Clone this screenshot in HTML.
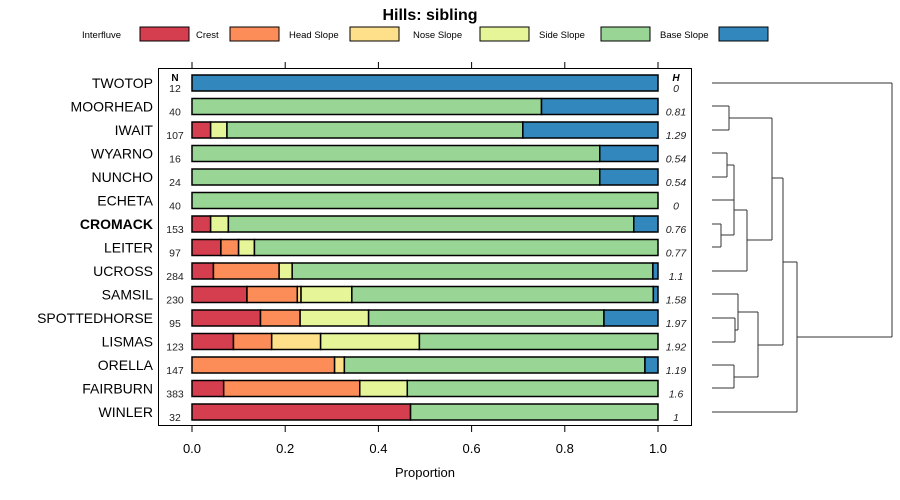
<!DOCTYPE html>
<html><head><meta charset="utf-8"><style>
body{margin:0;background:#fff}
svg{display:block;font-family:"Liberation Sans",sans-serif}
</style></head><body>
<svg id="c" width="900" height="500"></svg>
<script>
const categories=["TWOTOP","MOORHEAD","IWAIT","WYARNO","NUNCHO","ECHETA","CROMACK","LEITER","UCROSS","SAMSIL","SPOTTEDHORSE","LISMAS","ORELLA","FAIRBURN","WINLER"];
const seriesNames=["Interfluve","Crest","Head Slope","Nose Slope","Side Slope","Base Slope"];
const colors=["#D53E4F","#FC8D59","#FEE08B","#E6F598","#99D594","#3288BD"];
const interfluve=[0,0,0.04,0,0,0,0.04,0.062,0.046,0.118,0.147,0.089,0,0.068,0.469];
const crest=[0,0,0,0,0,0,0,0.038,0.141,0.108,0.085,0.082,0.306,0.292,0];
const headSlope=[0,0,0,0,0,0,0,0,0,0.008,0,0.105,0.021,0,0];
const noseSlope=[0,0,0.035,0,0,0,0.038,0.034,0.028,0.109,0.147,0.212,0,0.102,0];
const sideSlope=[0,0.75,0.635,0.875,0.875,1,0.87,0.866,0.774,0.647,0.505,0.512,0.645,0.538,0.531];
const baseSlope=[1,0.25,0.29,0.125,0.125,0,0.052,0,0.011,0.01,0.116,0,0.028,0,0];
const nValues=[12,40,107,16,24,40,153,97,284,230,95,123,147,383,32];
const hValues=["0","0.81","1.29","0.54","0.54","0","0.76","0.77","1.1","1.58","1.97","1.92","1.19","1.6","1"];
const xTicks=[0,0.2,0.4,0.6,0.8,1];
const xTickLabels=["0.0","0.2","0.4","0.6","0.8","1.0"];
const series=[interfluve,crest,headSlope,noseSlope,sideSlope,baseSlope];

const NS="http://www.w3.org/2000/svg";
const svg=document.getElementById('c');
function mk(t,a,p){const e=document.createElementNS(NS,t);for(const k in a)e.setAttribute(k,a[k]);(p||svg).appendChild(e);return e;}
const x=v=>192+v*466;
const y=i=>83+i*23.5;

let t=mk('text',{x:430,y:20,'text-anchor':'middle','font-size':16,'font-weight':'bold'});t.textContent="Hills: sibling";


const legX=[82,196,289,413,539,660],legBoxX=[140,230,350,480,601,719];
seriesNames.forEach((n,i)=>{
  const g=mk('g',{});
  
  
  const tt=mk('text',{x:legX[i],y:38,'font-size':9.5},g);tt.textContent=n;
  mk('rect',{x:legBoxX[i],y:27,width:49,height:14,fill:colors[i],stroke:'#000','stroke-width':1},g);
});

const panel=mk('rect',{x:158.5,y:68.5,width:533,height:357,fill:'none',stroke:'#000','stroke-width':1});


xTicks.forEach((v,i)=>{
  mk('line',{x1:x(v),x2:x(v),y1:62,y2:68,stroke:'#000'});
  mk('line',{x1:x(v),x2:x(v),y1:426,y2:432,stroke:'#000'});
  const l=mk('text',{x:x(v),y:453,'text-anchor':'middle','font-size':13});l.textContent=xTickLabels[i];
  
});
let xl=mk('text',{x:425,y:477,'text-anchor':'middle','font-size':13});xl.textContent="Proportion";


let hn=mk('text',{x:175,y:81,'text-anchor':'middle','font-size':10,'font-weight':'bold'});hn.textContent="N";
let hh=mk('text',{x:676,y:81,'text-anchor':'middle','font-size':10,'font-weight':'bold','font-style':'italic'});hh.textContent="H";

categories.forEach((c,i)=>{
  const cy=y(i);
  const lab=mk('text',{x:153,y:cy+5,'text-anchor':'end','font-size':14,'font-weight':c==='CROMACK'?'bold':'normal'});lab.textContent=c;
  
  const nt=mk('text',{x:175,y:cy+9,'text-anchor':'middle','font-size':10.5,fill:'#222'});nt.textContent=nValues[i];
  const ht=mk('text',{x:676,y:cy+9,'text-anchor':'middle','font-size':10.5,'font-style':'italic',fill:'#222'});ht.textContent=hValues[i];
  let cum=0;
  series.forEach((s,k)=>{
    const v=s[i];if(v<=0)return;
    const r=mk('rect',{x:x(cum),y:cy-8,width:x(cum+v)-x(cum),height:16,fill:colors[k],stroke:'#000','stroke-width':1.5});
    
    cum+=v;
  });
});

const den=[[712,83,892,83],[892,83,892,337],[892,337,797,337],
[712,106,729,106],[712,130,729,130],[729,106,729,130],[729,118,772,118],
[712,153,727,153],[712,177,727,177],[727,153,727,177],[727,165,734,165],
[712,200,734,200],[712,224,721,224],[712,247,721,247],[721,224,721,247],[721,235,734,235],
[734,165,734,235],[734,210,747,210],[712,271,747,271],[747,210,747,271],[747,240,772,240],
[772,118,772,240],[772,178,783,178],
[712,294,738,294],[712,318,735,318],[712,342,735,342],[735,318,735,342],[735,330,738,330],[738,294,738,330],[738,312,758,312],
[712,365,734,365],[712,388,734,388],[734,365,734,388],[734,377,758,377],[758,312,758,377],[758,345,783,345],
[783,178,783,345],[783,262,797,262],[712,412,797,412],[797,262,797,412]];
const dg=mk('g',{stroke:'#333','stroke-width':1,fill:'none'});

den.forEach(d=>mk('line',{x1:d[0],y1:d[1],x2:d[2],y2:d[3]},dg));
</script>
</body></html>
